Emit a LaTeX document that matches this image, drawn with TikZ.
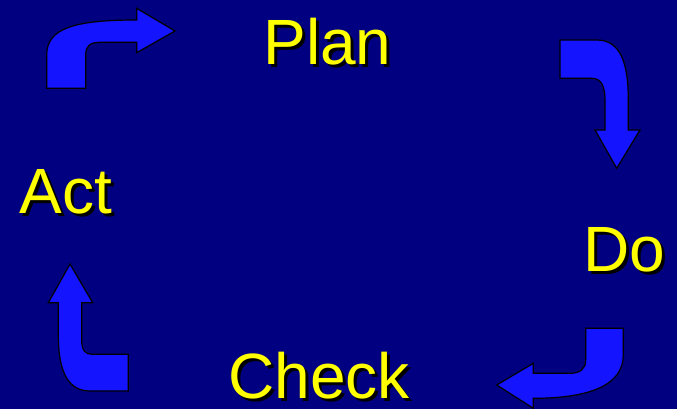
\documentclass[tikz,border=0pt]{standalone}
\usepackage{fontspec}
\setmainfont{Liberation Sans}
\definecolor{bgnavy}{RGB}{0,0,128}
\definecolor{arrowblue}{RGB}{20,20,255}
\definecolor{txtyellow}{RGB}{255,255,0}
\begin{document}
\begin{tikzpicture}[x=1pt,y=-1pt,
  bentarrow/.style={fill=arrowblue,draw=black,line width=1.2pt,line join=miter},
  word/.style={anchor=base,inner sep=0pt,text=txtyellow,font=\fontsize{64}{64}\selectfont},
  wordshadow/.style={anchor=base,inner sep=0pt,text=black,font=\fontsize{64}{64}\selectfont}]
\fill[bgnavy] (0,0) rectangle (677,409);
\useasboundingbox (0,0) rectangle (677,409);
% arrow top-left (Act -> Plan)
\draw[bentarrow] (46.7,88.3) -- (46.7,55) .. controls (46.7,28) and (75,20) .. (136.7,20)
  -- (136.7,8.3) -- (175,31) -- (136.7,52.7) -- (136.7,42.3) -- (100,42.3)
  .. controls (90,42.3) and (85.7,46) .. (85.7,55) -- (85.7,88.3) -- cycle;
% arrow top-right (Plan -> Do)
\draw[bentarrow] (560,40) -- (596.7,40) .. controls (620,40) and (628.3,62) .. (628.3,100)
  -- (628.3,130) -- (640,130) -- (616.7,168.3) -- (595,130) -- (605,130) -- (605,100)
  .. controls (605,86) and (601,78.3) .. (592,78.3) -- (560,78.3) -- cycle;
% arrow bottom-right (Do -> Check)
\draw[bentarrow] (585.7,328.3) -- (623.3,328.3) -- (623.3,355)
  .. controls (623.3,385) and (590,398.3) .. (533.3,398.3)
  -- (533.3,408.3) -- (496.7,385) -- (533.3,363.3) -- (533.3,373.3) -- (570,373.3)
  .. controls (580,373.3) and (585.7,369) .. (585.7,360) -- cycle;
% arrow bottom-left (Check -> Act)
\draw[bentarrow] (70,264) -- (92.7,302.7) -- (81.7,302.7) -- (81.7,340)
  .. controls (81.7,350) and (85,354.3) .. (92,354.3) -- (128.3,354.3) -- (128.3,391)
  -- (90,391) .. controls (70,391) and (58.3,375) .. (58.3,335) -- (58.3,302.7)
  -- (48.3,302.7) -- cycle;
% texts with shadows
\node[wordshadow] (plans) at (330.5,68) {Plan};
\node[word] (plan) at (327.5,65) {Plan};
\node[wordshadow] (acts) at (68.8,216.3) {Act};
\node[word] (act) at (65.8,213.3) {Act};
\node[wordshadow] (dos) at (627,274.7) {Do};
\node[word] (do) at (624,271.7) {Do};
\node[wordshadow] (checks) at (322,401.3) {Check};
\node[word] (check) at (319,398.3) {Check};
\end{tikzpicture}
\end{document}
